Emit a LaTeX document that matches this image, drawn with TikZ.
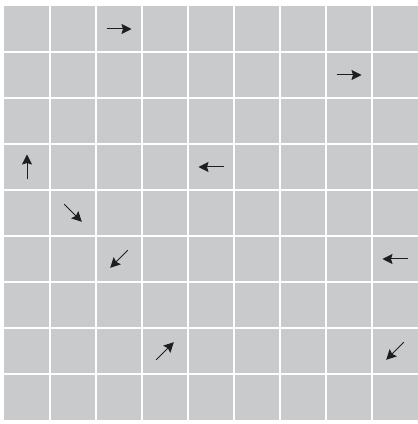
\documentclass[tikz,border=0pt]{standalone}
\usepackage{tikz}
\usepackage{xcolor}
\usetikzlibrary{arrows.meta}
\definecolor{cellgray}{RGB}{201,202,204}
\definecolor{arrowink}{RGB}{30,30,30}
\tikzset{
  gridline/.style={white, line width=2.6pt},
  cellarrow/.style={arrowink, line width=1pt, -{Stealth[length=10pt, width=10pt, inset=1.5pt]}}
}
\begin{document}
\begin{tikzpicture}[x=1pt, y=1pt]

    % --- Page and board ---
    \fill[white] (0,0) rectangle (418,424);
    \useasboundingbox (0,0) rectangle (418,424);
    \fill[cellgray] (4,4) rectangle (418,418);

    % --- White lines between the cells ---
    \foreach \k in {0,...,7} {
        \draw[gridline] (50+46*\k,4) -- (50+46*\k,418);
        \draw[gridline] (4,372-46*\k) -- (418,372-46*\k);
    }

    % --- Arrows: column / row (from top) / direction ---
    \foreach \c/\r/\a in {2/0/0, 7/1/0, 0/3/90, 4/3/180, 1/4/-45,
                          2/5/-135, 8/5/180, 3/7/45, 8/7/-135} {
        \draw[cellarrow, shift={(27+46*\c,395-46*\r)}] (\a+180:12.5) -- (\a:12.5);
    }

\end{tikzpicture}
\end{document}
